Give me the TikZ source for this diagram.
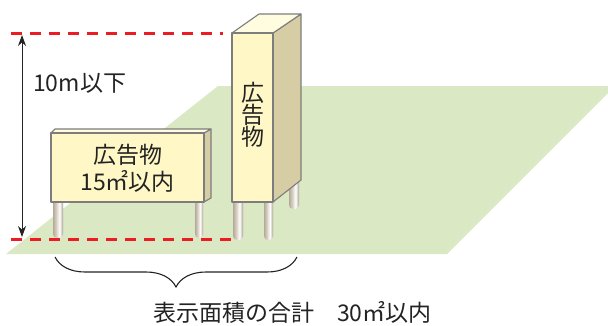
\documentclass[tikz,border=0pt]{standalone}
\usepackage{fontspec}
\setmainfont{Noto Sans CJK JP}
\usetikzlibrary{arrows.meta,decorations.pathreplacing}

\definecolor{ground}{RGB}{218,232,196}
\definecolor{boardfront}{RGB}{255,248,198}
\definecolor{boardside}{RGB}{214,205,164}
\definecolor{boardtop}{RGB}{255,252,224}
\definecolor{edge}{RGB}{125,125,125}
\definecolor{limitred}{RGB}{236,28,36}
\definecolor{ink}{RGB}{35,35,35}
\definecolor{legA}{RGB}{180,170,156}
\definecolor{legB}{RGB}{214,204,190}
\definecolor{legC}{RGB}{170,160,146}

% post with a light stripe down its right half
\pgfdeclarehorizontalshading{legshade}{100bp}{color(0bp)=(legA); color(25bp)=(legA); color(40bp)=(legB); color(58bp)=(white); color(75bp)=(legC); color(100bp)=(legC)}

\tikzset{
  face/.style={draw=edge, line width=1.1pt, line join=round},
  post/.style={shading=legshade, rounded corners=4pt},
  limit/.style={draw=limitred, line width=3pt, dash pattern=on 11pt off 8pt},
  label/.style={inner sep=0pt, text=ink, font=\fontsize{23}{27}\selectfont},
}

\begin{document}
\begin{tikzpicture}[x=1pt, y=-1pt]
\useasboundingbox (0,0) rectangle (608,325);

% ground plane
\fill[ground] (218,86) -- (608,86) -- (608,93) -- (447,254) -- (6,254) -- cycle;

% posts
\shade[post] (53,196) rectangle (63,238);
\shade[post] (195,196) rectangle (203,238);
\shade[post] (289,176) rectangle (299,209);
\shade[post] (233,196) rectangle (243,240);
\shade[post] (264,196) rectangle (273,240);

% low wide sign
\filldraw[face, fill=boardside] (204,133) -- (211,129) -- (211,198) -- (204,202) -- cycle;
\filldraw[face, fill=boardtop] (51,133) -- (55,129) -- (211,129) -- (204,133) -- cycle;
\filldraw[face, fill=boardfront] (51,133) rectangle (204,202);
\node[label, align=center] (wide) at (127.5,168) {広告物\\15㎡以内};

% tall pillar sign
\filldraw[face, fill=boardside] (273,33) -- (301,14) -- (301,180) -- (273,202) -- cycle;
\filldraw[face, fill=boardtop] (232,33) -- (259,14) -- (301,14) -- (273,33) -- cycle;
\filldraw[face, fill=boardfront] (232,33) rectangle (273,202);
\node[label, align=center, font=\fontsize{23}{22}\selectfont] (tall) at (252.5,115) {広\\告\\物};

% height limit lines
\coordinate (topL) at (11,33);
\coordinate (topR) at (223,33);
\coordinate (botL) at (11,239);
\coordinate (botR) at (237,239);
\draw[limit] (topL) -- (topR);
\draw[limit] (botL) -- (botR);

% height dimension
\coordinate (hTop) at (22,35);
\coordinate (hBot) at (22,237);
\draw[ink, line width=0.9pt, {Stealth[length=11pt,width=8pt]}-{Stealth[length=11pt,width=8pt]}] (hTop) -- (hBot);
\node[label, anchor=west] (height) at (33,83) {10m以下};

% total area brace
\coordinate (brL) at (55,257);
\coordinate (brR) at (297,257);
\draw[ink, line width=1.1pt, decorate, decoration={brace, mirror, amplitude=30pt, aspect=0.5}] (brL) -- (brR);
\node[label, anchor=west] (total) at (153,312) {表示面積の合計　30㎡以内};
\end{tikzpicture}
\end{document}
